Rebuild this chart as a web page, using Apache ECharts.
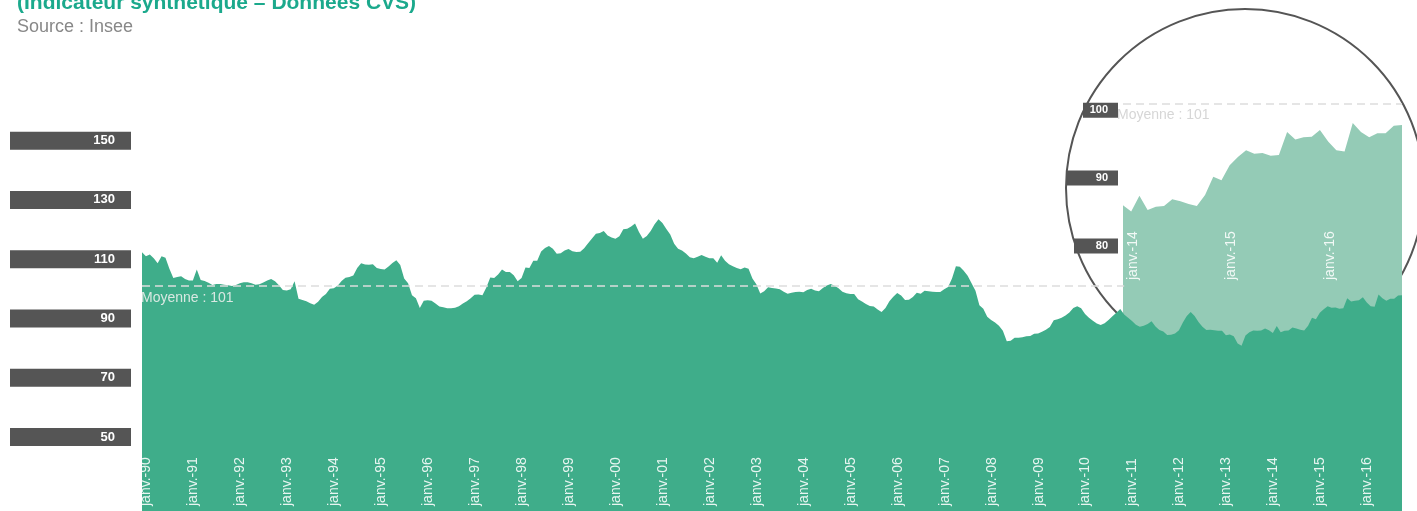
<!DOCTYPE html>
<html lang="fr">
<head>
<meta charset="UTF-8">
<title>Indicateur synthétique – Données CVS</title>
<script src="https://cdn.jsdelivr.net/npm/echarts@6/dist/echarts.min.js"></script>
<style>
  html, body { margin: 0; padding: 0; background: #fff; }
  #main { width: 1417px; height: 511px; }
</style>
</head>
<body>
<div id="main"></div>
<script>
// textes
const titre = '(Indicateur synthétique – Données CVS)';
const source = 'Source : Insee';

// mois (axe des x)
const moisNoms = ['janv.', 'févr.', 'mars', 'avr.', 'mai', 'juin', 'juil.', 'août', 'sept.', 'oct.', 'nov.', 'déc.'];
const anneeDebut = 1990;
const anneeFin = 2016;
const dernierMois = 11; // nov. 2016

// valeurs mensuelles, une ligne par année
const indicateur = [
  112.3, 111.0, 111.6, 110.3, 108.6, 111.0, 110.5, 106.8, 103.6, 104.0, 104.2, 103.3, // 1990
  102.8, 102.8, 106.5, 103.0, 102.6, 102.0, 101.3, 101.6, 101.6, 101.4, 101.2, 100.9, // 1991
  101.3, 101.9, 102.2, 102.2, 101.9, 101.4, 101.5, 102.1, 102.8, 103.3, 102.5, 101.2, // 1992
  99.6, 99.4, 99.8, 102.5, 96.6, 96.2, 95.8, 95.1, 94.6, 95.6, 97.2, 98.2,             // 1993
  100.0, 100.2, 101.0, 102.6, 103.7, 104.0, 104.5, 107.0, 108.6, 108.2, 108.1, 108.3,  // 1994
  107.0, 106.7, 106.5, 107.5, 108.7, 109.6, 108.0, 103.5, 101.9, 97.8, 96.8, 93.5,     // 1995
  96.0, 96.1, 96.0, 95.0, 94.0, 93.8, 93.4, 93.4, 93.6, 94.1, 95.0, 95.8,              // 1996
  96.8, 98.0, 98.1, 97.8, 100.4, 103.8, 103.6, 104.8, 106.5, 105.7, 105.7, 104.6,      // 1997
  102.5, 103.6, 107.2, 107.0, 109.5, 109.5, 112.6, 113.8, 114.4, 113.5, 111.8, 112.0,  // 1998
  112.9, 113.4, 112.7, 112.4, 112.5, 113.7, 115.4, 117.0, 118.6, 118.8, 119.5, 118.0,  // 1999
  117.3, 116.9, 117.7, 120.1, 120.3, 121.0, 122.0, 119.2, 116.9, 117.8, 119.5, 121.8,  // 2000
  123.5, 122.2, 120.2, 118.3, 115.2, 113.5, 112.9, 111.9, 110.6, 110.3, 110.8, 111.4,  // 2001
  110.8, 110.3, 110.3, 108.8, 111.3, 109.5, 108.3, 107.6, 107.0, 106.6, 107.2, 106.8,  // 2002
  103.5, 101.5, 98.4, 99.2, 100.5, 100.3, 100.1, 99.8, 99.0, 98.3, 98.7, 98.9,         // 2003
  99.0, 98.8, 99.6, 100.0, 99.4, 99.2, 100.3, 101.1, 101.6, 101.0, 100.2, 99.0,        // 2004
  98.5, 98.2, 98.2, 96.5, 95.7, 94.9, 94.2, 94.0, 93.0, 92.2, 93.5, 95.8,              // 2005
  97.3, 98.6, 97.7, 96.2, 96.3, 97.2, 98.7, 98.3, 99.3, 99.2, 99.0, 98.9,              // 2006
  98.9, 99.8, 100.6, 103.5, 107.6, 107.4, 106.1, 104.4, 101.9, 99.3, 94.4, 93.3,       // 2007
  90.6, 89.5, 88.6, 87.5, 85.8, 82.3, 82.5, 83.5, 83.5, 83.6, 84.0, 84.1,              // 2008
  84.8, 84.9, 85.5, 86.2, 87.1, 89.4, 89.7, 90.2, 91.0, 92.0, 93.5, 94.1,              // 2009
  93.4, 91.5, 90.2, 89.2, 88.3, 87.8, 88.4, 89.5, 90.7, 91.9, 93.2, 91.3,              // 2010
  90.2, 89.1, 87.9, 87.2, 87.5, 88.1, 89.0, 87.3, 86.1, 85.6, 84.4, 84.5,              // 2011
  84.9, 86.0, 88.6, 90.8, 92.2, 90.8, 88.8, 87.2, 86.1, 86.2, 86.0, 85.8,              // 2012
  85.8, 84.3, 84.6, 84.0, 81.5, 80.8, 84.2, 85.3, 85.9, 85.8, 85.9, 86.6,              // 2013
  86.0, 85.1, 87.4, 85.3, 85.8, 85.9, 86.9, 86.6, 86.2, 85.9, 87.5, 90.2,              // 2014
  89.7, 91.9, 93.1, 94.1, 93.6, 93.7, 93.3, 93.4, 96.8, 95.7, 96.0, 96.1,              // 2015
  97.1, 95.4, 94.1, 93.9, 98.1, 96.8, 96.0, 96.6, 96.6, 97.7, 97.8                     // 2016
];

const moyenne = 101;
const ticksPrincipal = [50, 70, 90, 110, 130, 150];
const ticksLoupe = [80, 90, 100];
const debutLoupe = 'janv.-14';   // la loupe montre 2014-2016
const finMoyenne = 'déc.-10';    // la ligne de moyenne s'arrête sous la loupe

// categories 'janv.-90' ... 'nov.-16'
const mois = [];
for (let a = anneeDebut; a <= anneeFin; a++) {
  for (let m = 0; m < 12; m++) {
    if (a === anneeFin && m >= dernierMois) break;
    mois.push(moisNoms[m] + '-' + String(a).slice(2));
  }
}
const iLoupe = mois.indexOf(debutLoupe);
const moisLoupe = mois.slice(iLoupe);
const valeursLoupe = indicateur.slice(iLoupe);

const vert = '#3fad8a';
const vertClair = '#94cbb6';
const gris = '#555555';
const janvSeul = (i, v) => v.indexOf('janv.') === 0;

const barre = {
  backgroundColor: gris, color: '#fff', fontWeight: 'bold', fontSize: 11,
  height: 15, lineHeight: 15, padding: [0, 10, 0, 0], align: 'right'
};

const chart = echarts.init(document.getElementById('main'));

chart.setOption({
  animation: false,
  textStyle: { fontFamily: '"Liberation Sans", Arial, Helvetica, sans-serif' },
  graphic: [
    {
      type: 'text', left: 17, top: -7, z: 10,
      style: { text: titre, font: 'bold 21px "Liberation Sans", Arial', fill: '#1ba98c' }
    },
    {
      type: 'text', left: 17, top: 18, z: 10,
      style: { text: source, font: '18px "Liberation Sans", Arial', fill: '#888' }
    },
    {
      type: 'circle', z: 2,
      shape: { cx: 1245, cy: 188, r: 179 },
      style: { fill: 'none', stroke: gris, lineWidth: 2 }
    }
  ],
  grid: [
    { left: 142, right: 15, top: 111, bottom: -2 },
    { left: 1123, right: 15, top: 83, bottom: -2 }
  ],
  xAxis: [
    {
      type: 'category', gridIndex: 0, data: mois, boundaryGap: false, z: 6,
      axisLine: { show: false }, axisTick: { show: false },
      axisLabel: {
        inside: true, rotate: 90, interval: janvSeul, margin: 5,
        verticalAlign: 'top', lineHeight: 9,
        color: 'rgba(255,255,255,0.88)', fontSize: 14
      }
    },
    {
      type: 'category', gridIndex: 1, data: moisLoupe, boundaryGap: false, z: 6,
      offset: -227,
      axisLine: { show: false }, axisTick: { show: false },
      axisLabel: {
        inside: true, rotate: 90, interval: janvSeul, margin: 4,
        verticalAlign: 'top', lineHeight: 20,
        color: 'rgba(255,255,255,0.88)', fontSize: 14
      }
    }
  ],
  yAxis: [
    {
      type: 'value', gridIndex: 0, min: 25, max: 160, z: 1,
      axisLine: { show: false }, axisTick: { show: false }, splitLine: { show: false },
      axisLabel: {
        customValues: ticksPrincipal, margin: 11,
        color: '#fff', fontWeight: 'bold', fontSize: 13,
        backgroundColor: gris, width: 105, height: 18, lineHeight: 18,
        padding: [0, 16, 0, 0], align: 'right'
      }
    },
    {
      type: 'value', gridIndex: 1, min: 41, max: 104, z: 1,
      axisLine: { show: false }, axisTick: { show: false }, splitLine: { show: false },
      axisLabel: {
        customValues: ticksLoupe, margin: 5,
        formatter: v => '{b' + v + '|' + v + '}',
        rich: {
          b100: Object.assign({}, barre, { width: 25 }),
          b90: Object.assign({}, barre, { width: 41 }),
          b80: Object.assign({}, barre, { width: 34 })
        }
      }
    }
  ],
  series: [
    {
      name: 'loupe', type: 'line', xAxisIndex: 1, yAxisIndex: 1, z: 3,
      data: valeursLoupe, symbol: 'none', silent: true,
      lineStyle: { width: 0 }, areaStyle: { color: vertClair, opacity: 1 },
      markLine: {
        silent: true, symbol: ['none', 'none'],
        lineStyle: { color: '#dddddd', type: [8, 5], width: 1.5 },
        label: {
          position: 'insideStartBottom', distance: [-6, 5], formatter: 'Moyenne : ' + moyenne,
          color: '#d6d6d6', fontSize: 14
        },
        data: [{ yAxis: moyenne }]
      }
    },
    {
      name: 'indicateur', type: 'line', xAxisIndex: 0, yAxisIndex: 0, z: 4,
      data: indicateur, symbol: 'none', silent: true,
      lineStyle: { width: 0 }, areaStyle: { color: vert, opacity: 1 },
      markLine: {
        silent: true, symbol: ['none', 'none'],
        lineStyle: { color: '#dddddd', type: [8, 5], width: 1.5 },
        label: {
          position: 'insideStartBottom', distance: [-1, 5], formatter: 'Moyenne : ' + moyenne,
          color: '#d9e8e2', fontSize: 14
        },
        data: [[{ coord: [mois[0], moyenne] }, { coord: [finMoyenne, moyenne] }]]
      }
    }
  ]
});
</script>
</body>
</html>
